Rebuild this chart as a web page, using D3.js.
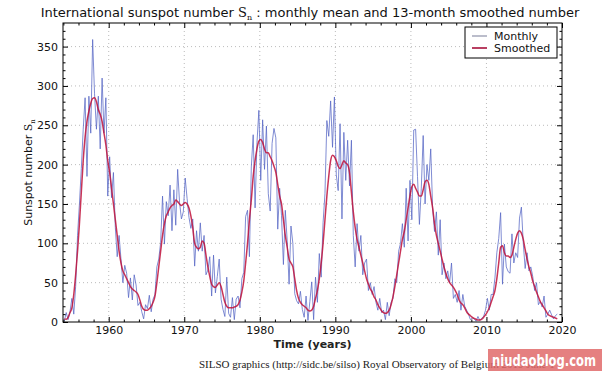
<!DOCTYPE html>
<html>
<head>
<meta charset="utf-8">
<script src="https://cdn.jsdelivr.net/npm/d3@7"></script>
<style>
  body { margin: 0; background: #fff; }
  text { font-family: "DejaVu Sans", sans-serif; }
</style>
</head>
<body>
<div id="chart"></div>
<script>
// first year of the record; each row below is one calendar year
const startYear = 1954;

// monthly mean, four sampled months per year (Feb, May, Aug, Nov)
const monthly = [
  [1, 12, 3, 13], [30, 10, 45, 110], [150, 195, 245, 285], [185, 287, 240, 359],
  [290, 245, 287, 220], [310, 240, 285, 160], [210, 158, 190, 120], [83, 110, 80, 50],
  [72, 62, 31, 56], [28, 60, 47, 21], [25, 13, 4, 22], [17, 34, 13, 29],
  [35, 70, 80, 101], [160, 99, 153, 135], [174, 116, 168, 123], [194, 152, 131, 140],
  [183, 157, 133, 119], [131, 71, 116, 90], [126, 90, 110, 60], [66, 83, 33, 85],
  [37, 58, 80, 29], [16, 7, 57, 11], [6, 31, 3, 29], [33, 18, 55, 63],
  [134, 142, 83, 197], [238, 145, 228, 269], [180, 257, 194, 249], [163, 141, 227, 246],
  [234, 118, 170, 135], [73, 142, 103, 48], [122, 100, 36, 27], [23, 39, 16, 6],
  [33, 2, 26, 51], [3, 57, 25, 87], [57, 126, 163, 256], [236, 281, 222, 286],
  [187, 167, 252, 131], [241, 180, 231, 173], [231, 110, 70, 125], [90, 110, 60, 75],
  [80, 40, 50, 35], [45, 25, 15, 30], [12, 15, 3, 25], [8, 25, 30, 55],
  [50, 90, 100, 125], [95, 170, 103, 180], [130, 244, 245, 185], [124, 170, 237, 150],
  [200, 180, 220, 145], [115, 140, 85, 130], [60, 75, 55, 65], [50, 75, 30, 35],
  [25, 40, 15, 35], [20, 15, 10, 3], [5, 4, 1, 7], [2, 5, 7, 15],
  [30, 15, 35, 35], [56, 88, 106, 139], [48, 99, 70, 64], [62, 112, 75, 88],
  [82, 132, 146, 100], [68, 88, 65, 70], [58, 40, 50, 22], [26, 19, 33, 6],
  [10, 15, 9, 4], [8, 10]
];

// 13-month smoothed number, same four months per year
const smoothed = [
  [4, 3.5, 6, 12], [18, 35, 60, 90], [125, 165, 205, 235], [255, 268, 278, 284],
  [285, 280, 270, 264], [255, 240, 225, 205], [190, 170, 150, 130], [110, 90, 75, 65],
  [60, 55, 50, 45], [42, 40, 38, 35], [28, 20, 16, 15], [15, 17, 20, 25],
  [33, 50, 70, 90], [110, 125, 135, 140], [145, 148, 150, 155], [153, 150, 148, 150],
  [152, 150, 145, 135], [120, 100, 95, 93], [95, 103, 100, 85], [70, 58, 48, 45],
  [44, 47, 50, 45], [35, 25, 20, 18], [18, 18, 19, 20], [22, 28, 38, 52],
  [75, 100, 130, 155], [185, 205, 220, 230], [232, 228, 220, 215], [215, 210, 205, 198],
  [190, 175, 160, 150], [130, 110, 95, 80], [75, 70, 55, 40], [30, 25, 22, 20],
  [18, 15, 14, 15], [20, 30, 40, 55], [75, 100, 130, 160], [185, 205, 212, 210],
  [205, 198, 195, 200], [205, 202, 200, 190], [165, 140, 120, 105], [95, 85, 75, 65],
  [55, 48, 42, 38], [32, 28, 22, 18], [14, 12, 11, 12], [15, 22, 32, 45],
  [60, 75, 90, 105], [115, 130, 145, 160], [172, 175, 170, 165], [160, 160, 168, 178],
  [180, 175, 160, 145], [125, 110, 100, 90], [80, 70, 62, 55], [50, 47, 44, 40],
  [35, 28, 24, 22], [18, 13, 10, 8], [6, 4.5, 3.5, 2.5], [2.5, 3.5, 6, 9],
  [13, 18, 25, 32], [40, 55, 75, 95], [97, 88, 84, 84], [82, 85, 95, 105],
  [113, 116, 113, 105], [92, 80, 70, 62], [52, 45, 38, 32], [26, 22, 18, 14],
  [10, 8, 7, 6], [5, 4]
];

const xTicks = [1960, 1970, 1980, 1990, 2000, 2010, 2020];
const yTicks = [0, 50, 100, 150, 200, 250, 300, 350];
const legendLabels = ["Monthly", "Smoothed"];

const width = 605, height = 376;
const plot = { left: 63, right: 562, top: 23, bottom: 322 };

const svg = d3.select("#chart").append("svg")
  .attr("width", width).attr("height", height);

svg.append("rect").attr("width", width).attr("height", height).attr("fill", "#fff");

const x = d3.scaleLinear().domain([1953.95, 2020]).range([plot.left, plot.right]);
const y = d3.scaleLinear().domain([0, 380]).range([plot.bottom, plot.top]);

// turn year rows into dated points
const toPoints = rows => rows.flatMap((row, i) =>
  row.map((v, q) => ({ t: startYear + i + (q * 3 + 1.5) / 12, v })));
const monthlyPts = toPoints(monthly);
const smoothedPts = toPoints(smoothed);

// dotted grid
const grid = svg.append("g").attr("stroke", "#aaa").attr("stroke-width", 0.8)
  .attr("stroke-dasharray", "1,3");
grid.selectAll(".gx").data(xTicks.filter(d => d < 2020)).join("line")
  .attr("x1", d => x(d)).attr("x2", d => x(d))
  .attr("y1", plot.top).attr("y2", plot.bottom);
grid.selectAll(".gy").data(yTicks.filter(d => d > 0)).join("line")
  .attr("x1", plot.left).attr("x2", plot.right)
  .attr("y1", d => y(d)).attr("y2", d => y(d));

// data lines
const line = d3.line().x(d => x(d.t)).y(d => y(d.v));
svg.append("path").datum(monthlyPts).attr("d", line)
  .attr("fill", "none").attr("stroke", "#5566c4").attr("stroke-width", 1)
  .attr("stroke-opacity", 0.75);
svg.append("path").datum(smoothedPts)
  .attr("d", d3.line().curve(d3.curveMonotoneX).x(d => x(d.t)).y(d => y(d.v)))
  .attr("fill", "none").attr("stroke", "#c0103a").attr("stroke-width", 1.5)
  .attr("stroke-opacity", 0.85);

// axes with inward ticks on all four sides
const xMinor = d3.range(1954, 2021, 2).filter(d => d % 10 !== 0);
const yMinor = d3.range(10, 380, 10).filter(d => d % 50 !== 0);

function styleAxis(g) {
  g.select(".domain").remove();
  g.selectAll("line").attr("stroke", "#000");
  g.selectAll("text").attr("fill", "#111").style("font-size", "11px")
    .style("font-family", "DejaVu Sans, sans-serif");
}

svg.append("g").attr("transform", `translate(0,${plot.bottom})`)
  .call(d3.axisBottom(x).tickValues(xTicks).tickSize(-5).tickPadding(4).tickFormat(d3.format("d")))
  .call(styleAxis);
svg.append("g").attr("transform", `translate(0,${plot.bottom})`)
  .call(d3.axisBottom(x).tickValues(xMinor).tickSize(-2.5).tickFormat(""))
  .call(styleAxis);
svg.append("g").attr("transform", `translate(0,${plot.top})`)
  .call(d3.axisTop(x).tickValues(xTicks).tickSize(-5).tickFormat(""))
  .call(styleAxis);
svg.append("g").attr("transform", `translate(0,${plot.top})`)
  .call(d3.axisTop(x).tickValues(xMinor).tickSize(-2.5).tickFormat(""))
  .call(styleAxis);
svg.append("g").attr("transform", `translate(${plot.left},0)`)
  .call(d3.axisLeft(y).tickValues(yTicks).tickSize(-5).tickPadding(5))
  .call(styleAxis);
svg.append("g").attr("transform", `translate(${plot.left},0)`)
  .call(d3.axisLeft(y).tickValues(yMinor).tickSize(-2.5).tickFormat(""))
  .call(styleAxis);
svg.append("g").attr("transform", `translate(${plot.right},0)`)
  .call(d3.axisRight(y).tickValues(yTicks).tickSize(-5).tickFormat(""))
  .call(styleAxis);
svg.append("g").attr("transform", `translate(${plot.right},0)`)
  .call(d3.axisRight(y).tickValues(yMinor).tickSize(-2.5).tickFormat(""))
  .call(styleAxis);

// frame
svg.append("rect")
  .attr("x", plot.left).attr("y", plot.top)
  .attr("width", plot.right - plot.left).attr("height", plot.bottom - plot.top)
  .attr("fill", "none").attr("stroke", "#000").attr("stroke-width", 1);

// title
const title = svg.append("text").attr("x", 310).attr("y", 17)
  .attr("text-anchor", "middle").style("font-size", "13px").attr("fill", "#111");
title.append("tspan").text("International sunspot number ");
title.append("tspan").style("font-family", "DejaVu Serif, serif").text("S");
title.append("tspan").attr("dy", 3).style("font-size", "8px")
  .style("font-family", "DejaVu Serif, serif").text("n");
title.append("tspan").attr("dy", -3).text(" : monthly mean and 13-month smoothed number");

// axis labels
const yl = svg.append("text")
  .attr("transform", `translate(32,${(plot.top + plot.bottom) / 2}) rotate(-90)`)
  .attr("text-anchor", "middle").style("font-size", "11px").attr("fill", "#111");
yl.append("tspan").text("Sunspot number ");
yl.append("tspan").style("font-family", "DejaVu Serif, serif").text("S");
yl.append("tspan").attr("dy", 3).style("font-size", "7px")
  .style("font-family", "DejaVu Serif, serif").text("n");

svg.append("text").attr("x", (plot.left + plot.right) / 2).attr("y", 348)
  .attr("text-anchor", "middle").style("font-size", "11px").style("font-weight", "bold")
  .attr("fill", "#222").text("Time (years)");

// legend
const lg = svg.append("g").attr("transform", "translate(465,27)");
lg.append("rect").attr("width", 92).attr("height", 31)
  .attr("fill", "#fff").attr("stroke", "#000").attr("stroke-width", 1);
const legendColors = ["#8e90a8", "#a8103a"];
legendLabels.forEach((label, i) => {
  lg.append("line").attr("x1", 7).attr("x2", 22)
    .attr("y1", 9 + i * 12).attr("y2", 9 + i * 12)
    .attr("stroke", legendColors[i]).attr("stroke-width", i ? 1.6 : 1.2);
  lg.append("text").attr("x", 29).attr("y", 13 + i * 12)
    .style("font-size", "11px").attr("fill", "#111").text(label);
});

// credit line
svg.append("text").attr("x", 199).attr("y", 368)
  .style("font-family", "Liberation Serif, serif").style("font-size", "11px")
  .attr("fill", "#222")
  .text("SILSO graphics (http://sidc.be/silso)  Royal Observatory of Belgium  2019 June 1");

// watermark
svg.append("rect").attr("x", 488).attr("y", 349).attr("width", 114).attr("height", 22)
  .attr("fill", "#e06a6a").attr("opacity", 0.85);
svg.append("text").attr("x", 492).attr("y", 366)
  .attr("textLength", 104).attr("lengthAdjust", "spacingAndGlyphs")
  .style("font-size", "16px").style("font-weight", "bold").attr("fill", "#fff")
  .text("niudaoblog.com");
</script>
</body>
</html>
